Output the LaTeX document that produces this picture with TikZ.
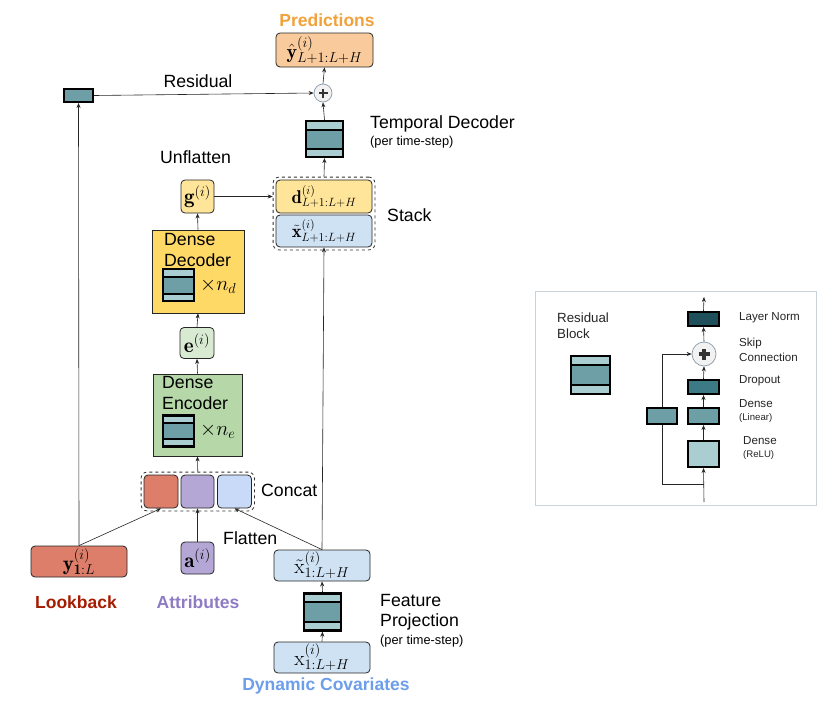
\documentclass[tikz,border=0pt]{standalone}
\usepackage{fontspec}
\newfontfamily\arial{Liberation Sans}
\usetikzlibrary{arrows.meta,calc,fit}
\definecolor{predfill}{HTML}{F9CB9C}
\definecolor{predtxt}{HTML}{F1A23A}
\definecolor{redfill}{HTML}{DD7E6B}
\definecolor{redtxt}{HTML}{A61C00}
\definecolor{purfill}{HTML}{B4A7D6}
\definecolor{purtxt}{HTML}{8E7CC3}
\definecolor{bluefill}{HTML}{CFE2F3}
\definecolor{bluecat}{HTML}{C9DAF8}
\definecolor{bluetxt}{HTML}{6D9EEB}
\definecolor{decfill}{HTML}{FFD966}
\definecolor{dfill}{HTML}{FFE599}
\definecolor{encfill}{HTML}{B6D7A8}
\definecolor{efill}{HTML}{D9EAD3}
\definecolor{tmid}{HTML}{6E9FA7}
\definecolor{tlight}{HTML}{A9CDD1}
\definecolor{tdark}{HTML}{1E4F5B}
\definecolor{tdrop}{HTML}{3C7A86}
\definecolor{panelborder}{HTML}{C9D4DC}
\definecolor{plusborder}{HTML}{8A9AA8}
\tikzset{
  box/.style={draw=black!85, line width=0.8pt, rounded corners=4pt, inner sep=0pt, font=\fontsize{21}{24}\selectfont},
  boxs/.style={box, font=\fontsize{18.5}{21}\selectfont},
  arr/.style={-{Stealth[length=5pt,width=4pt]}, line width=0.6pt, black!85},
  ln/.style={line width=0.6pt, black!85},
  dashbox/.style={draw=black!80, dashed, line width=0.8pt, rounded corners=6pt, inner sep=2.5pt},
  blk/.style={draw=black, line width=2.2pt, fill=tmid, inner sep=0pt, path picture={
    \fill[tlight] (path picture bounding box.north west) rectangle ($(path picture bounding box.north east)!0.24!(path picture bounding box.south east)$);
    \fill[tlight] ($(path picture bounding box.north west)!0.77!(path picture bounding box.south west)$) rectangle (path picture bounding box.south east);
    \draw[line width=1.8pt] ($(path picture bounding box.north west)!0.24!(path picture bounding box.south west)$) -- ($(path picture bounding box.north east)!0.24!(path picture bounding box.south east)$);
    \draw[line width=1.8pt] ($(path picture bounding box.north west)!0.77!(path picture bounding box.south west)$) -- ($(path picture bounding box.north east)!0.77!(path picture bounding box.south east)$);
  }},
  solidblk/.style={draw=black, line width=2pt, inner sep=0pt},
  plusnode/.style args={#1/#2}{circle, draw=plusborder, fill=black!5, line width=0.7pt, inner sep=0pt, minimum size=#1, path picture={
    \draw[line width=0.55*#2, black!80] ($(path picture bounding box.center)+(-#2,0pt)$) -- ($(path picture bounding box.center)+(#2,0pt)$);
    \draw[line width=0.55*#2, black!80] ($(path picture bounding box.center)+(0pt,-#2)$) -- ($(path picture bounding box.center)+(0pt,#2)$);
  }},
  lbl/.style={font=\arial\fontsize{17.7}{21}\selectfont, inner sep=0pt, text=black},
  small/.style={font=\arial\fontsize{12.8}{15}\selectfont, inner sep=0pt, text=black},
  plbl/.style={font=\arial\fontsize{11.6}{14}\selectfont, inner sep=0pt, text=black!85, anchor=west},
  psml/.style={font=\arial\fontsize{9.6}{11}\selectfont, inner sep=0pt, text=black!85, anchor=west},
  title/.style={font=\arial\bfseries\fontsize{17.5}{21}\selectfont, inner sep=0pt},
}
\begin{document}
\begin{tikzpicture}[x=1pt, y=-1pt]
\useasboundingbox[fill=white] (0,0) rectangle (828,705);

% ---------------- main diagram ----------------
\node[title, text=predtxt] (tpred) at (327,20) {Predictions};
\node[box, fill=predfill, minimum width=97pt, minimum height=34pt, font=\fontsize{20}{23}\selectfont] (pred) at (324.5,50) {$\hat{\mathbf{y}}^{(i)}_{L+1:L+H}$};
\node[plusnode=18pt/4.5pt] (plus) at (323,93) {};
\node[solidblk, fill=tmid, minimum width=29pt, minimum height=13pt] (res) at (78.5,95.5) {};
\node[lbl] (tres) at (198,81) {Residual};

\node[blk, minimum width=37pt, minimum height=36pt] (td) at (324.5,139) {};
\node[lbl, anchor=west] (ttd) at (370,124) {Temporal Decoder};
\node[small, anchor=west] (ttd2) at (370,142) {(per time-step)};

\node[boxs, fill=dfill, minimum width=96pt, minimum height=33pt] (d) at (324,196.5) {$\mathbf{d}^{(i)}_{L+1:L+H}$};
\node[boxs, fill=bluefill, minimum width=96pt, minimum height=32pt] (xt2) at (324,231) {$\tilde{\mathbf{x}}^{(i)}_{L+1:L+H}$};
\node[dashbox, fit=(d)(xt2)] (stack) {};
\node[lbl, anchor=west] (tstack) at (387,215) {Stack};

\node[box, fill=dfill, minimum width=33pt, minimum height=33pt] (g) at (197.5,196.5) {$\mathbf{g}^{(i)}$};
\node[lbl, anchor=west] (tunf) at (160,157) {Unflatten};

\node[draw=black!85, line width=0.8pt, fill=decfill, minimum width=92pt, minimum height=83pt, inner sep=0pt] (dec) at (198,271.5) {};
\node[lbl, anchor=west] (tdec1) at (164,239) {Dense};
\node[lbl, anchor=west] (tdec2) at (164,260) {Decoder};
\node[blk, minimum width=31pt, minimum height=32pt] (decblk) at (178.5,285) {};
\node[inner sep=0pt, font=\fontsize{21}{24}\selectfont, anchor=west] (nd) at (200,286) {$\times n_d$};

\node[box, fill=efill, minimum width=34pt, minimum height=31pt] (e) at (197,343) {$\mathbf{e}^{(i)}$};

\node[draw=black!85, line width=0.8pt, fill=encfill, minimum width=89pt, minimum height=82pt, inner sep=0pt] (enc) at (197.5,415) {};
\node[lbl, anchor=west] (tenc1) at (162,382) {Dense};
\node[lbl, anchor=west] (tenc2) at (162,403) {Encoder};
\node[blk, minimum width=31pt, minimum height=31pt] (encblk) at (178.5,431) {};
\node[inner sep=0pt, font=\fontsize{21}{24}\selectfont, anchor=west] (ne) at (200,431) {$\times n_e$};

\node[box, fill=redfill, minimum width=34pt, minimum height=33pt] (cr) at (161,491.5) {};
\node[box, fill=purfill, minimum width=33pt, minimum height=33pt] (cp) at (197.5,491.5) {};
\node[box, fill=bluecat, minimum width=34pt, minimum height=33pt] (cb) at (234.5,491.5) {};
\node[dashbox, fit=(cr)(cb)] (concat) {};
\node[lbl, anchor=west] (tcat) at (261,490) {Concat};

\node[box, fill=redfill, minimum width=96pt, minimum height=31pt] (yb) at (79,561.5) {$\mathbf{y}^{(i)}_{\mathbf{1}:L}$};
\node[box, fill=purfill, minimum width=33pt, minimum height=32pt] (ab) at (197.5,558) {$\mathbf{a}^{(i)}$};
\node[lbl, anchor=west] (tflat) at (223,538) {Flatten};
\node[box, fill=bluefill, minimum width=96pt, minimum height=31pt] (xt1) at (322,565.5) {$\tilde{\mathrm{x}}^{(i)}_{1:L+H}$};
\node[blk, minimum width=37pt, minimum height=37pt] (fp) at (322.5,612) {};
\node[box, fill=bluefill, minimum width=96pt, minimum height=31pt] (xb) at (322,657.5) {$\mathrm{x}^{(i)}_{1:L+H}$};
\node[lbl, anchor=west] (tfp1) at (380,600) {Feature};
\node[lbl, anchor=west] (tfp2) at (380,622) {Projection};
\node[small, anchor=west] (tfp3) at (380,641) {(per time-step)};

\node[title, text=redtxt] (tlook) at (76,602) {Lookback};
\node[title, text=purtxt] (tattr) at (198,602) {Attributes};
\node[title, text=bluetxt] (tdyn) at (326,686) {Dynamic Covariates};

% connectors
\draw[arr] (yb.north) -- (res.south);
\draw[arr] (res.east) -- (plus.west);
\draw[arr] (td.north) -- (plus.south);
\draw[arr] (plus.north) -- (pred.south);
\draw[arr] (stack.north) -- (td.south);
\draw[arr] (g.east) -- (g.east -| stack.west);
\draw[arr] (dec.north) -- (g.south);
\draw[arr] (e.north) -- (dec.south);
\draw[arr] (enc.north) -- (e.south);
\draw[arr] (concat.north) -- (enc.south);
\draw[arr] (yb.north) -- (cr.south);
\draw[arr] (ab.north) -- (cp.south);
\draw[arr] (xt1.north) -- (cb.south);
\draw[arr] (xt1.north) -- (xt2.south);
\draw[arr] (xb.north) -- (fp.south);
\draw[arr] (fp.north) -- (xt1.south);

% ---------------- residual block panel ----------------
\node[draw=panelborder, line width=1pt, minimum width=281pt, minimum height=214pt, inner sep=0pt] (panel) at (675.5,398) {};
\node[font=\arial\fontsize{13.3}{16}\selectfont, inner sep=0pt, anchor=west, text=black!85] (trb1) at (557,318) {Residual};
\node[font=\arial\fontsize{13.3}{16}\selectfont, inner sep=0pt, anchor=west, text=black!85] (trb2) at (557,334) {Block};
\node[blk, minimum width=39pt, minimum height=38pt] (rbb) at (590.5,375) {};

\node[solidblk, fill=tdark, minimum width=31pt, minimum height=14pt] (pln) at (703.5,319) {};
\node[plusnode=24pt/5.5pt] (pplus) at (704,354) {};
\node[solidblk, fill=tdrop, minimum width=31pt, minimum height=14pt] (pdrop) at (703.5,387) {};
\node[solidblk, fill=tmid, minimum width=31pt, minimum height=16pt] (plin) at (703.5,416) {};
\node[solidblk, fill=tmid, minimum width=30pt, minimum height=16pt] (pskip) at (662,416) {};
\node[solidblk, fill=tlight, minimum width=31pt, minimum height=26pt] (prelu) at (703.5,454) {};
\coordinate (pin) at (704,502);
\coordinate (psplit) at (704,484);
\coordinate (pout) at (704,297);

\draw[arr] (pin) -- (prelu.south);
\draw[arr] (prelu.north) -- (plin.south);
\draw[arr] (plin.north) -- (pdrop.south);
\draw[arr] (pdrop.north) -- (pplus.south);
\draw[arr] (pplus.north) -- (pln.south);
\draw[arr] (pln.north) -- (pout);
\draw[ln] (psplit) -| (pskip.south);
\draw[arr] (pskip.north) |- (pplus.west);

\node[plbl] (tln) at (739,318) {Layer Norm};
\node[plbl] (tsk1) at (739,343) {Skip};
\node[plbl] (tsk2) at (739,357) {Connection};
\node[plbl] (tdr) at (739,381) {Dropout};
\node[plbl] (tdl1) at (739,404) {Dense};
\node[psml] (tdl2) at (739,418) {(Linear)};
\node[plbl] (tdr1) at (743,441) {Dense};
\node[psml] (tdr2) at (743,455) {(ReLU)};
\end{tikzpicture}
\end{document}
